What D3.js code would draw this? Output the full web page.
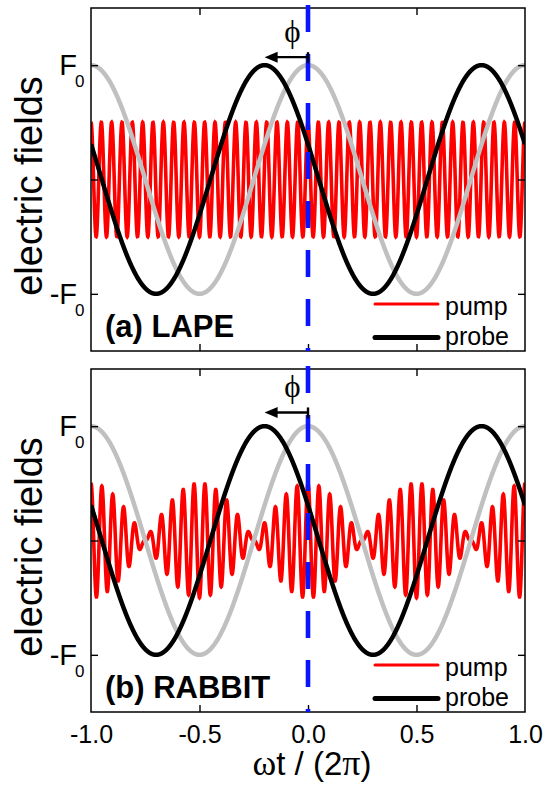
<!DOCTYPE html>
<html>
<head>
<meta charset="utf-8">
<script src="https://cdn.jsdelivr.net/npm/d3@7"></script>
<style>
  body { margin: 0; background: #fff; }
  svg { display: block; }
  text { font-family: "Liberation Sans", Arial, sans-serif; }
</style>
</head>
<body>
<div id="chart"></div>
<script>
// Data
const xTicks = [-1, -0.5, 0, 0.5, 1];
const yTicks = [-1, 0, 1];
const yTickLabels = [["-F", "0"], null, ["F", "0"]];
const panelLabels = ["(a) LAPE", "(b) RABBIT"];

// probe field: one cosine, peak shifted by phi
const probeAmp = 1.0;
const probeShift = -0.2;     // peak position (units of 2π)
// reference cosine (grey), peak at 0
const refAmp = 1.0;
const refShift = 0.0;
// pump fields: harmonic orders and amplitudes
const pumpOrdersA = [21];
const pumpAmpsA = [0.5];
const pumpOrdersB = [19, 21];
const pumpAmpsB = [0.263, 0.237];
const phiArrowY = [1.07, 1.12];  // height of phi arrow in each panel

// Set up dimensions
const width = 548;
const height = 786;
const left = 91, right = 525;
const panelTops = [8, 369];
const panelH = 343;

const svg = d3.select("#chart")
    .append("svg")
    .attr("width", width)
    .attr("height", height);

const x = d3.scaleLinear().domain([-1, 1]).range([left, right]);

const nPts = 3000;
const grid = d3.range(nPts + 1).map(i => -1 + 2 * i / nPts);

function harmonicSum(orders, amps) {
    return grid.map(t => [t, d3.sum(orders, (n, k) => amps[k] * Math.cos(2 * Math.PI * n * t))]);
}
function shiftedCos(amp, shift) {
    return grid.map(t => [t, amp * Math.cos(2 * Math.PI * (t - shift))]);
}

const pumps = [harmonicSum(pumpOrdersA, pumpAmpsA), harmonicSum(pumpOrdersB, pumpAmpsB)];

panelTops.forEach((top, p) => {
    const y = d3.scaleLinear().domain([-1.5, 1.5]).range([top + panelH, top]);
    const g = svg.append("g");

    svg.append("clipPath").attr("id", "clip" + p)
        .append("rect")
        .attr("x", left).attr("y", top)
        .attr("width", right - left).attr("height", panelH);

    const line = d3.line().x(d => x(d[0])).y(d => y(d[1]));
    const plot = g.append("g").attr("clip-path", `url(#clip${p})`);

    // Draw the curves
    plot.append("path").datum(pumps[p])
        .attr("d", line).attr("fill", "none")
        .attr("stroke", "#ff0000").attr("stroke-width", 3.6);
    plot.append("path").datum(shiftedCos(refAmp, refShift))
        .attr("d", line).attr("fill", "none")
        .attr("stroke", "#c0c0c0").attr("stroke-width", 4.5);
    plot.append("path").datum(shiftedCos(probeAmp, probeShift))
        .attr("d", line).attr("fill", "none")
        .attr("stroke", "#000").attr("stroke-width", 4.5);

    // Frame
    g.append("rect")
        .attr("x", left).attr("y", top)
        .attr("width", right - left).attr("height", panelH)
        .attr("fill", "none").attr("stroke", "#000").attr("stroke-width", 1.5);

    // Inward ticks on all four sides
    const axes = [
        [d3.axisLeft(y).tickValues(yTicks), `translate(${left},0)`],
        [d3.axisRight(y).tickValues(yTicks), `translate(${right},0)`],
        [d3.axisTop(x).tickValues(xTicks.slice(1, -1)), `translate(0,${top})`],
        [d3.axisBottom(x).tickValues(xTicks.slice(1, -1)), `translate(0,${top + panelH})`]
    ];
    axes.forEach(([ax, tr]) => {
        const a = g.append("g").attr("transform", tr)
            .call(ax.tickSize(-7).tickFormat(""));
        a.select(".domain").remove();
        a.selectAll("line").attr("stroke-width", 1.4);
    });

    // Y tick labels with subscripts
    yTicks.forEach((v, i) => {
        const lab = yTickLabels[i];
        if (!lab) return;
        g.append("text")
            .attr("x", 77).attr("y", y(v) + 10)
            .attr("text-anchor", "end")
            .attr("font-size", 29)
            .text(lab[0]);
        g.append("text")
            .attr("x", 75).attr("y", y(v) + 22)
            .attr("font-size", 17)
            .text(lab[1]);
    });

    // Y axis title
    g.append("text")
        .attr("transform", `translate(42,${top + 178}) rotate(-90)`)
        .attr("text-anchor", "middle")
        .attr("font-size", 38)
        .text("electric fields");

    // Blue dashed line at t = 0
    g.append("line")
        .attr("x1", x(0)).attr("x2", x(0))
        .attr("y1", top - 3).attr("y2", top + panelH)
        .attr("stroke", "#0a14ff").attr("stroke-width", 4.6)
        .attr("stroke-dasharray", "27,22");

    // phi arrow
    const ay = y(phiArrowY[p]);
    g.append("line")
        .attr("x1", x(probeShift) + 10).attr("x2", x(0))
        .attr("y1", ay).attr("y2", ay)
        .attr("stroke", "#000").attr("stroke-width", 2.4);
    g.append("path")
        .attr("d", `M${x(probeShift)},${ay} l13,-5.5 l0,11 z`)
        .attr("fill", "#000");
    g.append("line")
        .attr("x1", x(0)).attr("x2", x(0))
        .attr("y1", ay - 5).attr("y2", ay + 6)
        .attr("stroke", "#000").attr("stroke-width", 2.4);
    g.append("text")
        .attr("x", (x(probeShift) + x(0)) / 2 + 6).attr("y", ay - 15)
        .attr("text-anchor", "middle")
        .attr("font-size", 31)
        .style("font-family", "'Liberation Serif', 'DejaVu Serif', serif")
        .text("\u03D5");

    // Panel label
    g.append("text")
        .attr("x", 105).attr("y", top + 329)
        .attr("font-size", 31).attr("font-weight", "bold")
        .text(panelLabels[p]);

    // Legend
    const legend = [["pump", "#ff0000", 3, 296, 307], ["probe", "#000", 5, 329.5, 337]];
    legend.forEach(([name, col, w, ly, ty]) => {
        g.append("line")
            .attr("x1", 375).attr("x2", 438)
            .attr("y1", top + ly).attr("y2", top + ly)
            .attr("stroke", col).attr("stroke-width", w)
            .attr("stroke-linecap", "round");
        g.append("text")
            .attr("x", 445).attr("y", top + ty)
            .attr("font-size", 25)
            .text(name);
    });

    // X tick labels on the lower panel only
    if (p === panelTops.length - 1) {
        const fmt = d3.format(".1f");
        const xa = g.append("g").attr("transform", `translate(0,${top + panelH})`)
            .call(d3.axisBottom(x).tickValues(xTicks).tickSize(0).tickPadding(13)
                .tickFormat(d => fmt(d).replace("\u2212", "-")));
        xa.select(".domain").remove();
        xa.selectAll("text")
            .attr("font-size", 25)
            .attr("fill", "#000")
            .style("font-family", "'Liberation Sans', Arial, sans-serif");
    }
});

// X axis title
const xt = svg.append("text")
    .attr("x", 312).attr("y", 775)
    .attr("text-anchor", "middle")
    .attr("font-size", 33);
xt.append("tspan").style("font-family", "'Liberation Serif', serif").attr("font-size", 36).text("\u03C9");
xt.append("tspan").text("t / (2");
xt.append("tspan").style("font-family", "'Liberation Serif', serif").attr("font-size", 36).text("\u03C0");
xt.append("tspan").text(")");
</script>
</body>
</html>
